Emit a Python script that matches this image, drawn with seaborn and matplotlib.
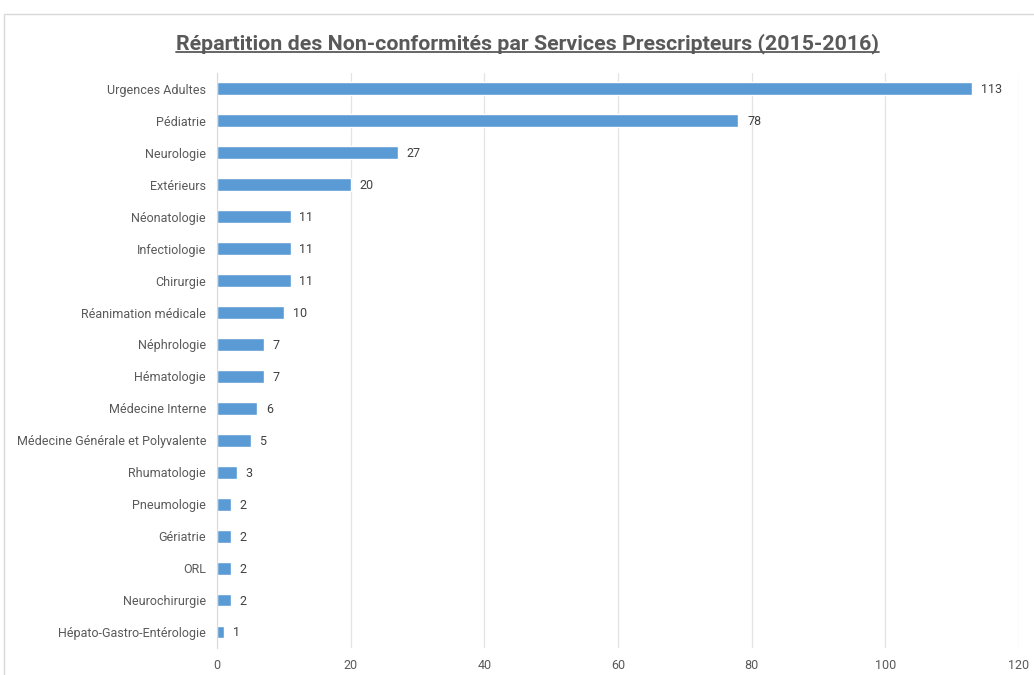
import matplotlib
matplotlib.use("Agg")
import pandas as pd
from matplotlib import pyplot as plt
import seaborn as sns
import warnings
warnings.filterwarnings("ignore")

services = ['Urgences Adultes', 'Pédiatrie', 'Neurologie', 'Extérieurs', 'Néonatologie',
            'Infectiologie', 'Chirurgie', 'Réanimation médicale', 'Néphrologie', 'Hématologie',
            'Médecine Interne', 'Médecine Générale et Polyvalente', 'Rhumatologie', 'Pneumologie',
            'Gériatrie', 'ORL', 'Neurochirurgie', 'Hépato-Gastro-Entérologie']
counts = [113, 78, 27, 20, 11, 11, 11, 10, 7, 7, 6, 5, 3, 2, 2, 2, 2, 1]
xticks = [0, 20, 40, 60, 80, 100, 120]

df = pd.DataFrame({'service': services, 'n': counts})

sns.set_style("white")
plt.rcParams['font.family'] = ['Roboto', 'DejaVu Sans']

fig = plt.figure(figsize=(10.34, 6.75), dpi=100)
ax = fig.add_axes([0.21, 0.04, 0.7755, 0.852])

sns.barplot(data=df, x='n', y='service', color='#5B9BD5', saturation=1, width=0.4, ax=ax)

ax.set_xlim(0, 120)
ax.set_xticks(xticks)
ax.grid(axis='x', color='#E3E3E3', linewidth=0.9)
ax.set_axisbelow(True)
for s in ['top', 'right', 'bottom']:
    ax.spines[s].set_visible(False)
ax.spines['left'].set_color('#D9D9D9')
ax.tick_params(axis='both', length=0, labelsize=9, colors='#595959', pad=8)
ax.set_xlabel('')
ax.set_ylabel('')

for i, v in enumerate(counts):
    ax.text(v + 1.3, i + 0.03, str(v), va='center', ha='left', fontsize=9, color='#404040')

t = fig.text(0.51, 0.936, 'Répartition des Non-conformités par Services Prescripteurs (2015-2016)',
             ha='center', va='center', fontsize=15.4, fontweight='bold', color='#595959')

# underline the title
fig.canvas.draw()
bb = t.get_window_extent().transformed(fig.transFigure.inverted())
fig.add_artist(plt.Line2D([bb.x0, bb.x1], [bb.y0 + 0.002, bb.y0 + 0.002],
                          transform=fig.transFigure, color='#595959', linewidth=1.3))

# chart frame
fig.add_artist(plt.Rectangle((0.004, -0.01), 1.02, 0.989, transform=fig.transFigure,
                             fill=False, edgecolor='#D9D9D9', linewidth=1))

fig.savefig('out.png', dpi=100)
